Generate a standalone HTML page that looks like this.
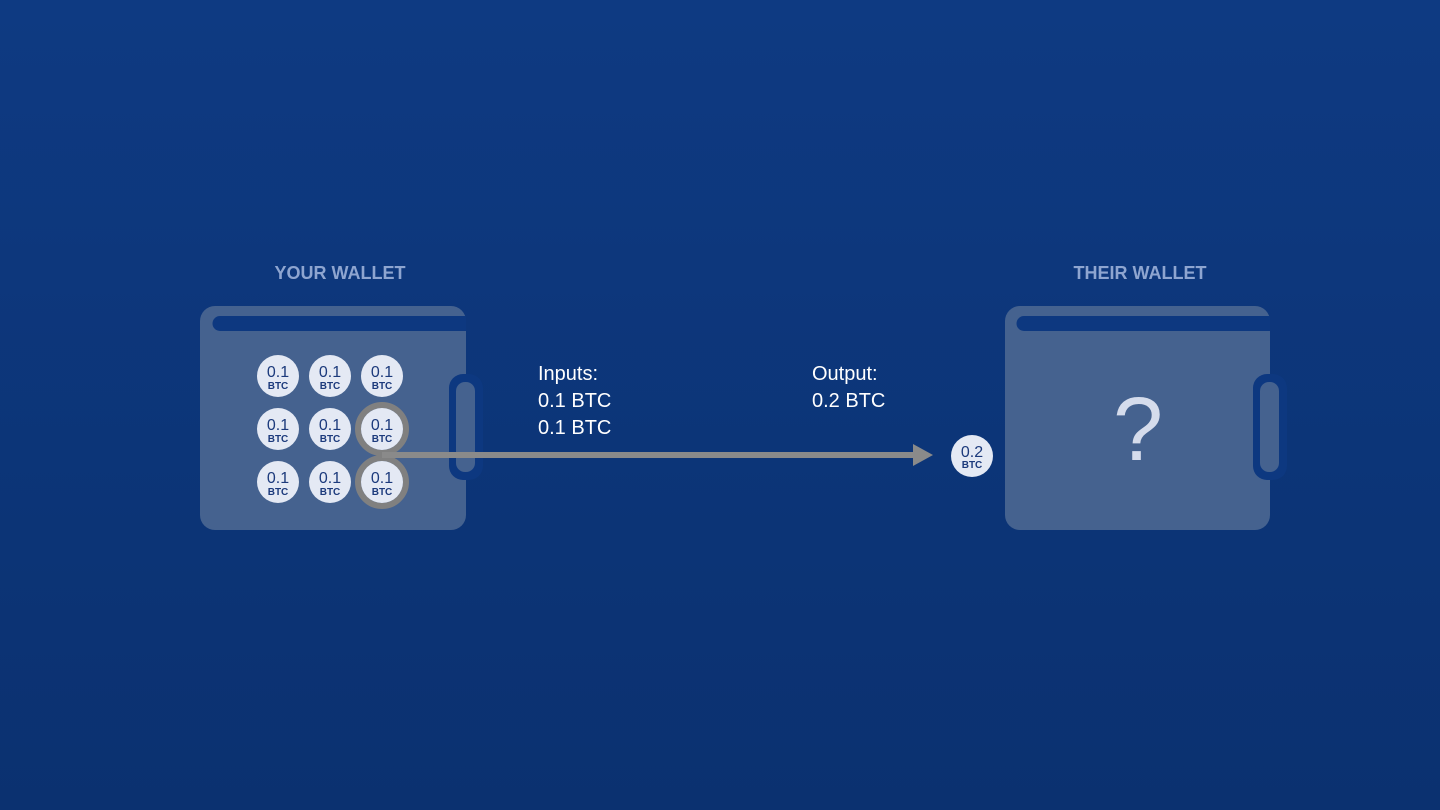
<!DOCTYPE html>
<html><head><style>
html,body{margin:0;padding:0;width:1440px;height:810px;overflow:hidden}
body{background:linear-gradient(#0e3a82,#0b3170);font-family:"Liberation Sans",sans-serif}
svg{display:block}
</style></head><body>
<svg width="1440" height="810" xmlns="http://www.w3.org/2000/svg" font-family="Liberation Sans, sans-serif">
<text x="340" y="279" text-anchor="middle" fill="#8ea5d0" font-size="18" font-weight="bold">YOUR WALLET</text>
<text x="1140" y="279" text-anchor="middle" fill="#8ea5d0" font-size="18" font-weight="bold">THEIR WALLET</text>
<g>
<rect x="200" y="306" width="266" height="224" rx="15" fill="#45628f"/>
<path d="M220 316 H466 V331 H220 A7.5 7.5 0 0 1 220 316 Z" fill="#0d3880"/>
<rect x="449" y="374" width="34" height="106" rx="14" fill="#0d3880"/>
<rect x="456" y="382" width="19" height="90" rx="9" fill="#45628f"/>
</g>
<g>
<rect x="1005" y="306" width="265" height="224" rx="15" fill="#45628f"/>
<path d="M1024 316 H1270 V331 H1024 A7.5 7.5 0 0 1 1024 316 Z" fill="#0d3880"/>
<rect x="1253" y="374" width="34" height="106" rx="14" fill="#0d3880"/>
<rect x="1260" y="382" width="19" height="90" rx="9" fill="#45628f"/>
<text x="1138" y="460" text-anchor="middle" fill="#d5dcec" font-size="90">?</text>
</g>
<g>
<circle cx="382" cy="429" r="24" fill="none" stroke="#808080" stroke-width="6"/>
<circle cx="382" cy="482" r="24" fill="none" stroke="#808080" stroke-width="6"/>
</g>
<line x1="382" y1="455" x2="915" y2="455" stroke="#8a8a8a" stroke-width="6"/>
<polygon points="913,444 933,455 913,466" fill="#8a8a8a"/>
<g fill="#e4e9f4">
<circle cx="278" cy="376" r="21"/><circle cx="330" cy="376" r="21"/><circle cx="382" cy="376" r="21"/>
<circle cx="278" cy="429" r="21"/><circle cx="330" cy="429" r="21"/><circle cx="382" cy="429" r="21"/>
<circle cx="278" cy="482" r="21"/><circle cx="330" cy="482" r="21"/><circle cx="382" cy="482" r="21"/>
<circle cx="972" cy="456" r="21"/>
</g>
<g fill="#1c3a7c" text-anchor="middle">
<g font-size="16"><text x="278" y="377">0.1</text><text x="330" y="377">0.1</text><text x="382" y="377">0.1</text>
<text x="278" y="430">0.1</text><text x="330" y="430">0.1</text><text x="382" y="430">0.1</text>
<text x="278" y="483">0.1</text><text x="330" y="483">0.1</text><text x="382" y="483">0.1</text>
<text x="972" y="457">0.2</text></g>
<g font-size="10" font-weight="bold"><text x="278" y="389">BTC</text><text x="330" y="389">BTC</text><text x="382" y="389">BTC</text>
<text x="278" y="442">BTC</text><text x="330" y="442">BTC</text><text x="382" y="442">BTC</text>
<text x="278" y="495">BTC</text><text x="330" y="495">BTC</text><text x="382" y="495">BTC</text>
<text x="972" y="468">BTC</text></g>
</g>
<g fill="#ffffff" font-size="20">
<text x="538" y="380">Inputs:</text><text x="538" y="407">0.1 BTC</text><text x="538" y="434">0.1 BTC</text>
<text x="812" y="380">Output:</text><text x="812" y="407">0.2 BTC</text>
</g>
</svg>
</body></html>
